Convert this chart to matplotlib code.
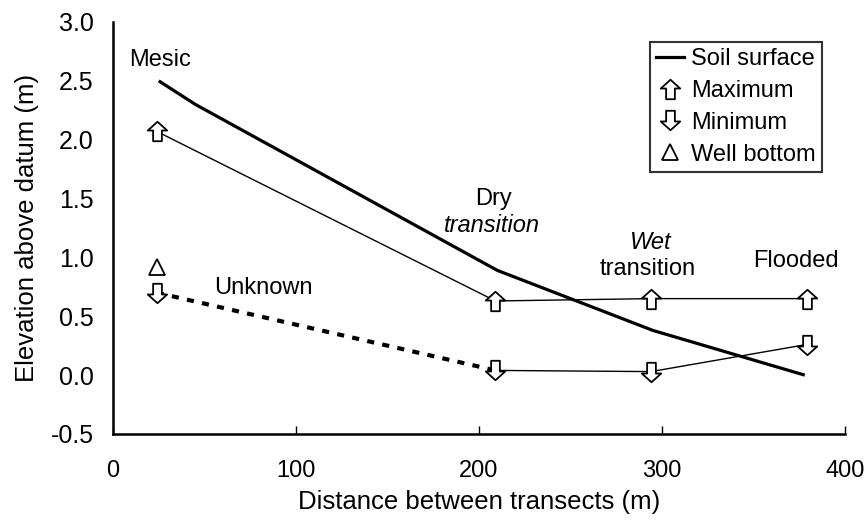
import matplotlib
matplotlib.use("Agg")
import matplotlib.pyplot as plt
from matplotlib.path import Path
from matplotlib.lines import Line2D

plt.rcParams['font.family'] = ['Liberation Sans', 'DejaVu Sans']

# ---- data ----
sites = ["Mesic", "Dry transition", "Wet transition", "Flooded"]
site_distance = [24, 209, 294, 379]
soil_distance = [25, 45, 210, 295, 378]
soil_surface = [2.5, 2.3, 0.89, 0.38, 0.0]
maximum = [2.07, 0.63, 0.65, 0.65]
minimum = [0.70, 0.04, 0.03, 0.26]
well_bottom_distance = [24]
well_bottom = [0.92]
x_ticks = [0, 100, 200, 300, 400]
y_ticks = [-0.5, 0.0, 0.5, 1.0, 1.5, 2.0, 2.5, 3.0]

# ---- arrow markers ----
up_verts = [(0, 1), (1, 0.1), (0.45, 0.1), (0.45, -1), (-0.45, -1), (-0.45, 0.1), (-1, 0.1), (0, 1)]
up_codes = [Path.MOVETO] + [Path.LINETO] * 6 + [Path.CLOSEPOLY]
up_arrow = Path(up_verts, up_codes)
down_arrow = Path([(x, -y) for x, y in up_verts], up_codes)

fig = plt.figure(figsize=(8.67, 5.22), dpi=100)
ax = fig.add_axes([0.1303, 0.1686, 0.8443, 0.7893])

# soil surface
ax.plot(soil_distance, soil_surface, color='black', lw=2.3, solid_capstyle='butt', zorder=3)
# maximum
ax.plot(site_distance, maximum, color='black', lw=1.0, zorder=2)
ax.plot(site_distance, maximum, linestyle='none', marker=up_arrow, ms=14,
        mfc='white', mec='black', mew=1.3, zorder=4)
# minimum: dashed unknown segment then solid
ax.plot(site_distance[:2], minimum[:2], color='black', lw=3.0, dashes=(1.7, 2.0), zorder=2)
ax.plot(site_distance[1:], minimum[1:], color='black', lw=1.0, zorder=2)
ax.plot(site_distance, minimum, linestyle='none', marker=down_arrow, ms=14,
        mfc='white', mec='black', mew=1.3, zorder=4)
# well bottom
ax.plot(well_bottom_distance, well_bottom, linestyle='none', marker='^', ms=12,
        mfc='white', mec='black', mew=1.3, zorder=4)

ax.set_xlim(0, 400)
ax.set_ylim(-0.5, 3.0)
ax.set_xticks(x_ticks)
ax.set_yticks(y_ticks)
ax.set_xticklabels([str(v) for v in x_ticks], fontsize=17)
ax.set_yticklabels([f"{v:.1f}" for v in y_ticks], fontsize=18)
ax.tick_params(axis='x', direction='in', length=6, width=1, pad=19)
ax.tick_params(axis='y', length=0, pad=14)
for s in ['top', 'right']:
    ax.spines[s].set_visible(False)
for s in ['left', 'bottom']:
    ax.spines[s].set_linewidth(1.8)

ax.set_ylabel("Elevation above datum (m)", fontsize=18.5, labelpad=8)
ax.set_xlabel("Distance between transects (m)", fontsize=18.5)
ax.xaxis.set_label_coords(0.5, -0.135)

# annotations
tkw = dict(ha='center', va='center', fontsize=17)
ax.text(25.6, 2.68, "Mesic", **tkw)
ax.text(208, 1.50, "Dry", **tkw)
ax.text(207, 1.27, "transition", style='italic', **tkw)
ax.text(294, 1.13, "Wet", style='italic', **tkw)
ax.text(292, 0.90, "transition", **tkw)
ax.text(373, 0.97, "Flooded", **tkw)
ax.text(82, 0.74, "Unknown", **tkw)

handles = [
    Line2D([], [], color='black', lw=2.3),
    Line2D([], [], linestyle='none', marker=up_arrow, ms=14, mfc='white', mec='black', mew=1.3),
    Line2D([], [], linestyle='none', marker=down_arrow, ms=14, mfc='white', mec='black', mew=1.3),
    Line2D([], [], linestyle='none', marker='^', ms=12, mfc='white', mec='black', mew=1.3),
]
labels = ["Soil surface", "Maximum", "Minimum", "Well bottom"]
leg = ax.legend(handles, labels, loc='upper right', bbox_to_anchor=(822 / 867, 1 - 42 / 522),
                bbox_transform=fig.transFigure, borderaxespad=0, fontsize=17,
                frameon=True, fancybox=False, edgecolor='black', handlelength=1.2,
                handletextpad=0.3, labelspacing=0.42, borderpad=0.25)
leg.get_frame().set_linewidth(1.5)

fig.savefig("out.png", dpi=100)
